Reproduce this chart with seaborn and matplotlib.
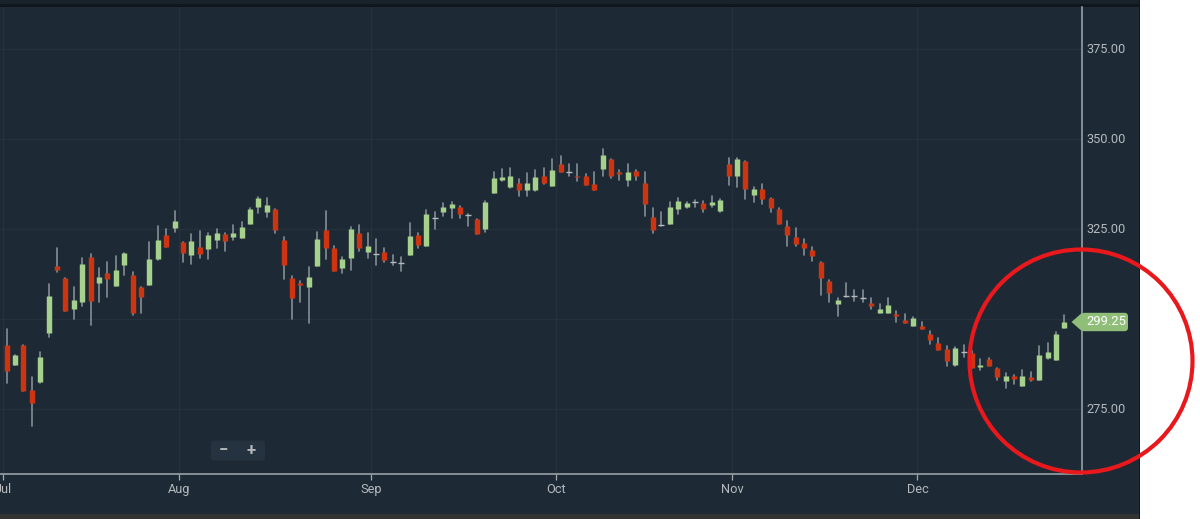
import numpy as np
import pandas as pd
import matplotlib
matplotlib.use('Agg')
import matplotlib.pyplot as plt
from matplotlib.patches import Ellipse, FancyBboxPatch, Polygon, Rectangle
from matplotlib.transforms import ScaledTranslation
import seaborn as sns

# --- Data (daily candles) ---
opens = [
    306.2, 292.9, 287.3, 292.9, 280.2, 282.6, 296.1, 314.7, 311.5, 302.9,
    304.6, 317.3, 310.1, 312.7, 309.3, 315.1, 312.1, 308.8, 309.5, 316.6,
    323.4, 325.3, 321.3, 317.7, 319.9, 319.5, 322.0, 323.7, 322.7, 322.6,
    326.5, 331.2, 329.6, 330.5, 322.0, 311.5, 309.9, 308.9, 314.7, 324.6,
    319.7, 314.2, 317.0, 323.8, 318.6, 318.0, 318.6, 315.8, 315.6, 317.9,
    323.4, 320.3, 328.1, 329.6, 330.9, 331.0, 328.9, 327.9, 324.9, 334.9,
    338.6, 336.6, 337.7, 335.8, 335.7, 339.7, 336.9, 343.1, 340.8, 339.7,
    339.8, 337.4, 341.6, 344.4, 340.9, 338.7, 341.2, 337.7, 328.3, 326.2,
    326.4, 330.6, 331.1, 332.6, 332.1, 331.6, 329.9, 343.0, 339.6, 343.8,
    334.4, 336.2, 333.6, 330.5, 325.7, 322.9, 321.1, 319.1, 315.8, 310.6,
    304.1, 306.5, 306.5, 305.9, 304.5, 301.7, 301.6, 301.3, 299.8, 298.1,
    298.0, 295.7, 293.3, 291.6, 287.2, 290.8, 290.5, 286.7, 288.8, 286.4,
    282.8, 284.3, 281.5, 283.8, 283.0, 289.1, 288.5, 297.6,
]
closes = [
    297.2, 285.6, 289.9, 280.1, 276.8, 289.5, 306.5, 313.5, 302.3, 305.3,
    315.3, 304.9, 311.6, 311.0, 313.5, 318.2, 301.7, 306.0, 316.7, 322.0,
    320.0, 327.2, 318.3, 321.6, 318.1, 323.4, 323.8, 321.6, 323.8, 325.5,
    330.5, 333.6, 331.7, 324.7, 315.1, 305.7, 309.5, 311.8, 322.3, 319.7,
    313.3, 316.8, 325.0, 319.7, 320.3, 318.0, 316.3, 315.8, 315.6, 323.1,
    320.6, 329.1, 328.1, 331.0, 331.9, 329.1, 328.9, 323.5, 332.6, 339.2,
    339.5, 339.8, 335.8, 337.7, 339.5, 337.8, 341.5, 340.9, 340.8, 339.4,
    337.2, 335.8, 345.6, 339.6, 340.2, 340.9, 339.6, 332.0, 324.6, 326.2,
    331.0, 332.8, 332.1, 332.6, 330.6, 332.6, 333.1, 339.7, 344.4, 336.1,
    336.0, 333.2, 330.9, 326.5, 323.2, 320.9, 319.8, 317.4, 311.3, 307.2,
    305.4, 306.5, 306.5, 305.9, 303.7, 302.8, 303.9, 300.8, 299.0, 300.4,
    297.3, 294.1, 291.5, 288.3, 291.9, 290.8, 286.5, 287.2, 287.0, 283.9,
    284.3, 283.2, 284.1, 283.0, 289.9, 290.7, 295.7, 299.25,
]
highs = [
    306.2, 297.1, 289.9, 292.9, 283.8, 290.7, 309.7, 319.6, 311.5, 308.8,
    317.0, 318.0, 314.1, 315.9, 317.4, 318.2, 313.0, 308.8, 321.4, 325.7,
    325.0, 329.9, 321.4, 323.5, 324.4, 323.8, 325.0, 323.8, 326.1, 326.9,
    330.7, 334.0, 333.5, 330.5, 322.9, 312.0, 310.6, 314.4, 324.1, 329.9,
    320.2, 317.1, 325.5, 326.1, 323.9, 322.3, 319.7, 317.9, 317.1, 326.7,
    323.8, 330.2, 329.6, 332.2, 332.6, 331.4, 329.1, 327.9, 332.8, 340.9,
    341.6, 341.9, 339.0, 340.5, 341.3, 341.9, 344.4, 345.4, 343.1, 343.1,
    340.2, 340.9, 347.1, 344.4, 341.3, 343.1, 341.3, 340.7, 330.7, 329.6,
    332.6, 333.7, 332.6, 333.0, 332.8, 334.3, 333.2, 344.7, 344.7, 343.9,
    336.6, 337.4, 333.7, 330.7, 327.3, 325.2, 322.3, 319.9, 315.9, 310.9,
    305.9, 309.9, 308.0, 308.0, 305.9, 304.3, 305.7, 302.2, 301.3, 300.6,
    299.3, 296.8, 294.8, 292.5, 292.1, 292.9, 291.1, 288.8, 289.3, 286.5,
    284.9, 284.4, 285.9, 285.3, 292.6, 293.4, 296.4, 301.0,
]
lows = [
    297.2, 282.1, 287.3, 280.1, 270.4, 282.1, 294.9, 313.0, 302.3, 299.9,
    303.6, 298.4, 304.6, 306.0, 309.2, 312.2, 301.0, 301.7, 309.5, 316.5,
    320.0, 324.2, 315.9, 315.4, 317.0, 316.8, 319.7, 318.9, 322.0, 322.5,
    326.4, 329.5, 328.4, 323.8, 311.2, 299.9, 304.8, 299.0, 314.7, 316.8,
    313.3, 312.7, 313.6, 318.8, 317.0, 315.0, 315.9, 315.1, 313.2, 317.9,
    319.7, 320.3, 324.9, 328.7, 328.1, 328.1, 325.8, 323.5, 324.1, 334.9,
    338.4, 336.4, 334.3, 334.3, 335.6, 337.5, 336.9, 340.8, 339.8, 338.4,
    337.2, 335.7, 339.8, 339.3, 338.6, 336.9, 338.6, 328.7, 323.8, 325.8,
    326.4, 329.3, 330.9, 331.0, 329.8, 331.0, 329.8, 337.2, 336.7, 333.3,
    332.6, 331.9, 329.8, 326.3, 320.3, 320.3, 317.9, 316.2, 306.8, 304.8,
    300.9, 306.2, 305.1, 304.8, 302.8, 301.6, 301.6, 299.3, 298.9, 298.0,
    297.1, 293.1, 291.4, 286.9, 287.0, 289.5, 286.3, 285.8, 286.9, 283.0,
    280.9, 281.9, 281.5, 282.9, 283.0, 289.0, 288.5, 297.6,
]
month_labels = ['Jul', 'Aug', 'Sep', 'Oct', 'Nov', 'Dec']
month_ticks = [0.56, 21.54, 44.43, 66.48, 87.46, 109.5]
price_ticks = [275, 300, 325, 350, 375]
price_labels = ['275.00', '', '325.00', '350.00', '375.00']
last_price = 299.25

# --- Configuration ---
BG = '#1d2a35'
GRID = '#25323c'
AXIS = '#a3aaaf'
TEXT = '#b4babe'
WICK = '#868e95'
UP = '#a6d18c'
DOWN = '#cf3410'
FLAG = '#8fbe78'
W, H = 1200, 519

sns.set_theme(style='dark', rc={'axes.facecolor': BG, 'figure.facecolor': 'white'})
plt.rcParams['font.family'] = ['Roboto', 'DejaVu Sans']


def px_box(x0, y0, x1, y1):
    # figure fractions from picture pixels (y counted from the top)
    return x0 / W, 1 - y1 / H, (x1 - x0) / W, (y1 - y0) / H


def add_strip(fig, x0, y0, x1, y1, color, zorder):
    left, bottom, width, height = px_box(x0, y0, x1, y1)
    fig.add_artist(Rectangle((left, bottom), width, height, transform=fig.transFigure,
                             facecolor=color, edgecolor='none', zorder=zorder))


# --- Build long tables for seaborn ---
days = np.arange(len(opens))
candles = pd.DataFrame({'day': days, 'open': opens, 'close': closes, 'high': highs, 'low': lows})
candles['direction'] = np.where(candles['close'] > candles['open'], 'up',
                                np.where(candles['close'] < candles['open'], 'down', 'flat'))

wicks = candles.melt(id_vars='day', value_vars=['low', 'high'], value_name='price')
bodies = candles[candles['direction'] != 'flat'].melt(
    id_vars=['day', 'direction'], value_vars=['open', 'close'], value_name='price')
flats = candles[candles['direction'] == 'flat']

# --- Figure ---
fig = plt.figure(figsize=(W / 100, H / 100), dpi=100)

# panel behind the chart, with the dark strips around it
add_strip(fig, 0, 0, 1139.5, 519, BG, -3)
add_strip(fig, 0, 0, 1139.5, 4.5, '#18222b', -2)
add_strip(fig, 0, 4.5, 1139.5, 7, '#0f171d', -2)
add_strip(fig, 0, 513.7, 1139.5, 519, '#333333', -2)
add_strip(fig, 1138.8, 0, 1139.5, 519, '#10181e', -2)

ax = fig.add_axes(px_box(0, 7, 1081.5, 474))

sns.lineplot(data=wicks, x='day', y='price', units='day', estimator=None, sort=False,
             color=WICK, linewidth=1.2, ax=ax, legend=False, zorder=3)
sns.lineplot(data=bodies, x='day', y='price', units='day', hue='direction', estimator=None, sort=False,
             palette={'up': UP, 'down': DOWN}, linewidth=3.9, solid_capstyle='butt',
             ax=ax, legend=False, zorder=4)
sns.scatterplot(data=flats, x='day', y='close', marker='_', s=16, color='#b4babe',
                linewidth=1.0, ax=ax, legend=False, zorder=5)

ax.set_xlim(0.205, 129.05)
ax.set_ylim(256.94, 386.67)
ax.set_xlabel('')
ax.set_ylabel('')

ax.set_xticks(month_ticks)
ax.set_xticklabels(month_labels)
ax.set_yticks(price_ticks)
ax.set_yticklabels(price_labels)
ax.yaxis.tick_right()
ax.grid(True, color=GRID, linewidth=1.0)
ax.set_axisbelow(True)
ax.tick_params(axis='x', length=4.5, width=0.9, color=AXIS, labelcolor=TEXT, labelsize=9.2, pad=1.8, bottom=True)
ax.tick_params(axis='y', length=2.2, width=0.9, color=AXIS, labelcolor=TEXT, labelsize=9.2, pad=1.5, right=True)
sns.despine(ax=ax, left=True, top=True, right=False, bottom=False)
for side in ['right', 'bottom']:
    ax.spines[side].set_color(AXIS)
    ax.spines[side].set_linewidth(1.1)

# price labels sit about a pixel above their ticks
lift = ScaledTranslation(0, 1 / 100, fig.dpi_scale_trans)
for label in ax.get_yticklabels():
    label.set_transform(label.get_transform() + lift)

# last price flag
flag_y = 322.0
fig.add_artist(FancyBboxPatch((1081 / W, 1 - 331.2 / H), 47 / W, 18.4 / H, transform=fig.transFigure,
                              boxstyle='round,pad=0,rounding_size=0.003', mutation_aspect=W / H,
                              facecolor=FLAG, edgecolor='none', zorder=6))
fig.add_artist(Polygon([(1071.5 / W, 1 - flag_y / H), (1082 / W, 1 - 312.8 / H), (1082 / W, 1 - 331.2 / H)],
                       transform=fig.transFigure, facecolor=FLAG, edgecolor='none', zorder=6))
fig.text(1106.5 / W, 1 - (flag_y - 0.5) / H, f'{last_price:.2f}', color='white', fontsize=9.4,
         ha='center', va='center', zorder=7)

# zoom buttons
fig.add_artist(FancyBboxPatch((211 / W, 1 - 460.5 / H), 54 / W, 20 / H, transform=fig.transFigure,
                              boxstyle='round,pad=0,rounding_size=0.002', mutation_aspect=W / H,
                              facecolor='#253340', edgecolor='none', zorder=6))
fig.text(223.5 / W, 1 - 450.5 / H, '\u2212', color='#b0b6ba', fontsize=12, fontweight='bold',
         ha='center', va='center', zorder=7)
fig.text(251 / W, 1 - 450.5 / H, '+', color='#b0b6ba', fontsize=12, fontweight='bold',
         ha='center', va='center', zorder=7)

# red hand drawn circle
fig.add_artist(Ellipse((1081 / W, 1 - 361 / H), 223 / W, 223 / H, transform=fig.transFigure,
                       facecolor='none', edgecolor='#e8181c', linewidth=3.0, zorder=8))

fig.savefig('out.png', dpi=100)
